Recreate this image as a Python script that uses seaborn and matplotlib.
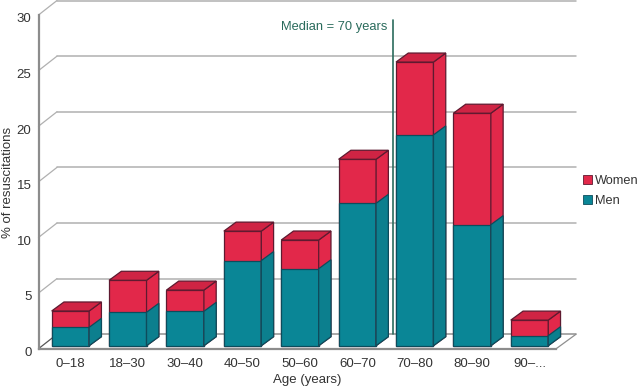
import numpy as np
import matplotlib
matplotlib.use("Agg")
import matplotlib.pyplot as plt
from matplotlib.patches import Polygon, Patch
from matplotlib.transforms import ScaledTranslation
import seaborn as sns

ages = ["0–18", "18–30", "30–40", "40–50", "50–60", "60–70", "70–80", "80–90", "90–..."]
men = [1.65, 3.0, 3.09, 7.65, 6.92, 12.8, 18.95, 10.88, 0.9]
women = [1.47, 2.88, 1.91, 2.65, 2.58, 3.96, 6.55, 10.02, 1.4]
yticks = [0, 5, 10, 15, 20, 25, 30]

RED = "#e2284a"
RED_TOP = "#cf2444"
TEAL = "#0a8696"
TEAL_SIDE = "#0c7f8e"
RED_EDGE = "#5e1a30"
TEAL_EDGE = "#0d4c5c"
GRID = "#b0b0b0"
AXIS = "#8c8c8c"
GREEN = "#2a6b5c"
FS = 9.5

sns.set_theme(style="white")
plt.rcParams["font.family"] = ["Liberation Sans", "DejaVu Sans"]
plt.rcParams["text.color"] = "#333333"

W, H = 640, 388
fig = plt.figure(figsize=(W / 100, H / 100), dpi=100)
ax = fig.add_axes([38.5 / W, (H - 348.7) / H, (576 - 38.5) / W, (348.7 - 15) / H])

total = np.array(men) + np.array(women)
sns.barplot(x=ages, y=total, color=RED, saturation=1, width=0.653, ax=ax,
            edgecolor=RED_EDGE, linewidth=0.9, zorder=3)
sns.barplot(x=ages, y=men, color=TEAL, saturation=1, width=0.653, ax=ax,
            edgecolor=TEAL_EDGE, linewidth=0.9, zorder=3)

# depth of the fake 3d, in data units
bar_dx, bar_dy = 0.214, 0.81
wall_dx, wall_dy = 0.322, 1.3
lift = 0.27
x0, x1 = -0.556, 8.81
floor_end = x1 - 0.345

ax.set_xlim(x0, x1)
ax.set_ylim(0, 30)

bars = list(ax.patches)
n = len(ages)
for i, p in enumerate(bars):
    p.set_y(lift)
    x, w, h = p.get_x(), p.get_width(), p.get_height()
    is_red = i < n
    edge = RED_EDGE if is_red else TEAL_EDGE
    side = [(x + w, lift), (x + w + bar_dx, lift + bar_dy),
            (x + w + bar_dx, lift + h + bar_dy), (x + w, lift + h)]
    ax.add_patch(Polygon(side, closed=True, facecolor=RED if is_red else TEAL_SIDE,
                         edgecolor=edge, lw=0.9, zorder=3, clip_on=False))
    if is_red:
        top = [(x, lift + h), (x + w, lift + h),
               (x + w + bar_dx, lift + h + bar_dy), (x + bar_dx, lift + h + bar_dy)]
        ax.add_patch(Polygon(top, closed=True, facecolor=RED_TOP, edgecolor=edge,
                             lw=0.9, zorder=3, clip_on=False))

# back wall grid and floor
for v in yticks:
    col = "#555555" if v == 0 else GRID
    ax.plot([x0, x0 + wall_dx], [v, v + wall_dy], color=col, lw=0.9, zorder=1, clip_on=False)
    ax.plot([x0 + wall_dx, x1], [v + wall_dy, v + wall_dy], color="#8f8f8f" if v == 0 else GRID,
            lw=1.1, zorder=1, clip_on=False)
ax.plot([floor_end, x1], [0, wall_dy], color="#8f8f8f", lw=0.9, zorder=1, clip_on=False)

# median marker
ax.plot([5.626, 5.626], [1.3, 29.55], color=GREEN, lw=1.2, zorder=2, clip_on=False)
ax.text(5.52, 28.92, "Median = 70 years", color=GREEN, fontsize=9.3, ha="right", va="center")

for s in ["top", "right"]:
    ax.spines[s].set_visible(False)
for s in ["left", "bottom"]:
    ax.spines[s].set_color(AXIS)
    ax.spines[s].set_linewidth(1.6)
ax.spines["bottom"].set_bounds(x0, floor_end)
ax.spines["bottom"].set_zorder(2)

ax.set_yticks(yticks)
ax.tick_params(axis="both", length=0, labelsize=FS, labelcolor="#333333")
ax.tick_params(axis="y", pad=5)
ax.tick_params(axis="x", pad=7)
# y labels sit a little under their grid start
for lab in ax.get_yticklabels():
    lab.set_transform(lab.get_transform() + ScaledTranslation(0, -2 / 72, fig.dpi_scale_trans))
ax.set_xlabel("Age (years)", fontsize=FS, color="#333333")
ax.set_ylabel("% of resuscitations", fontsize=FS, color="#333333")
ax.xaxis.set_label_coords((307 - 38.5) / (576 - 38.5), -(380 - 348.7) / (348.7 - 15), transform=ax.transAxes)
ax.xaxis.label.set_va("center")
ax.yaxis.set_label_coords((8 - 38.5) / (576 - 38.5), (348.7 - 182) / (348.7 - 15), transform=ax.transAxes)
ax.yaxis.label.set_va("center")

handles = [Patch(facecolor=RED, edgecolor=RED_EDGE, lw=0.6, label="Women"),
           Patch(facecolor=TEAL, edgecolor=TEAL_EDGE, lw=0.6, label="Men")]
fig.legend(handles=handles, loc="center left", bbox_to_anchor=(580.5 / W, (H - 191) / H),
           frameon=False, fontsize=9.2, handlelength=0.72, handleheight=0.72,
           handletextpad=0.2, labelspacing=0.62, borderpad=0.2, borderaxespad=0)

fig.savefig("out.png", dpi=100)
